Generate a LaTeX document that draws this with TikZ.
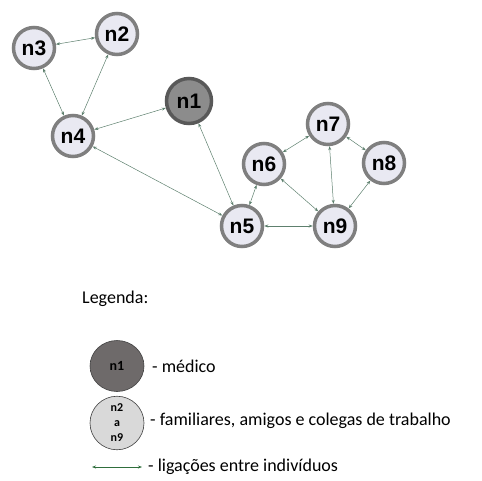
\documentclass[tikz,border=0pt]{standalone}
\usepackage{fontspec}
\setmainfont{Carlito}
\newfontfamily\labelfont{Liberation Sans}
\usetikzlibrary{arrows.meta, shapes.geometric}
\definecolor{nodefill}{HTML}{E9E9F2}
\definecolor{nodeedge}{HTML}{7F7F7F}
\definecolor{medfill}{HTML}{8C8C8C}
\definecolor{mededge}{HTML}{595959}
\definecolor{linkcol}{HTML}{5E806E}
\definecolor{legdark}{HTML}{6E6A6A}
\definecolor{leglight}{HTML}{D9D9D9}
\definecolor{legarrow}{HTML}{2F6E3C}

\begin{document}
\begin{tikzpicture}[x=1pt, y=-1pt]
	\tikzstyle{person} = [circle, draw=nodeedge, line width=3.5pt, fill=nodefill, minimum size=41pt, inner sep=0pt, font=\labelfont\bfseries\fontsize{21}{21}\selectfont]
	\tikzstyle{doctor} = [person, draw=mededge, fill=medfill, minimum size=45pt]
	\tikzstyle{link} = [draw=linkcol, line width=0.5pt, {Stealth[length=4pt,width=3pt]}-{Stealth[length=4pt,width=3pt]}]
	\tikzstyle{legcircle} = [ellipse, draw=black!75, line width=0.6pt, minimum width=54pt, minimum height=51pt, inner sep=0pt, align=center, font=\bfseries\fontsize{14}{15}\selectfont]
	\tikzstyle{legtext} = [anchor=west, inner sep=0pt, font=\fontsize{18}{20}\selectfont]
	\useasboundingbox (0,0) rectangle (482,480);
	% rede
	\node[doctor] (n1) at (189,101) {n1}; \node[person] (n2) at (117,34) {n2}; \node[person] (n3) at (34,48) {n3}; \node[person] (n4) at (73,136) {n4}; \node[person] (n5) at (242,226) {n5}; \node[person] (n6) at (264,164) {n6}; \node[person] (n7) at (328,124) {n7}; \node[person] (n8) at (384,163) {n8}; \node[person] (n9) at (335,226) {n9};
	
	\draw[link] (n3) -- (n2); \draw[link] (n3) -- (n4); \draw[link] (n2) -- (n4); \draw[link] (n4) -- (n1); \draw[link] (n4) -- (n5); \draw[link] (n1) -- (n5); \draw[link] (n5) -- (n6); \draw[link] (n5) -- (n9); \draw[link] (n6) -- (n7); \draw[link] (n6) -- (n9); \draw[link] (n7) -- (n9); \draw[link] (n7) -- (n8); \draw[link] (n8) -- (n9);
	
	% legenda
	\node[legtext] (legtitle) at (82,299) {Legenda:};
	\node[legcircle, fill=legdark] (legdoc) at (117,366) {n1}; \node[legtext] (legdoctxt) at (152,366) {- médico};
	\node[legcircle, fill=leglight, minimum height=48pt, font=\bfseries\fontsize{12}{15}\selectfont] (legfam) at (117,423) {n2\\a\\n9}; \node[legtext] (legfamtxt) at (150,421) {- familiares, amigos e colegas de trabalho};
	\coordinate (arrA) at (92,467); \coordinate (arrB) at (142,467);
	\draw[legarrow, line width=0.7pt, {Stealth[length=4pt,width=3pt]}-{Stealth[length=4pt,width=3pt]}] (arrA) -- (arrB);
	\node[legtext] (leglinktxt) at (148,467) {- ligações entre indivíduos};
\end{tikzpicture}
\end{document}
